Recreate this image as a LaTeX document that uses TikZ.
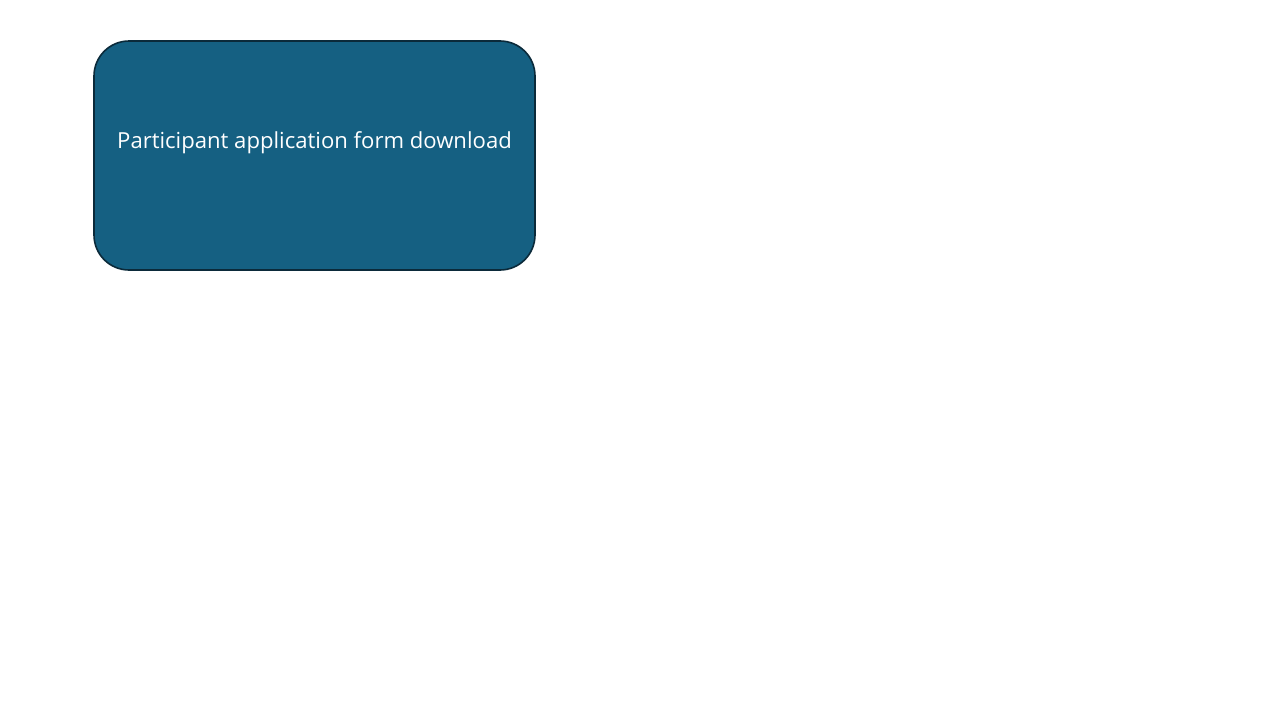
\documentclass[tikz,border=0pt]{standalone}
\usepackage{fontspec}
\setmainfont{Open Sans}
\definecolor{boxfill}{HTML}{156082}
\definecolor{boxline}{HTML}{0B2A3A}
\tikzset{procbox/.style={draw=boxline, line width=1.6pt, fill=boxfill, rounded corners=35pt}}
\begin{document}
\begin{tikzpicture}[x=1pt,y=-1pt]
\useasboundingbox (0,0) rectangle (1280,720);
\fill[white] (0,0) rectangle (1280,720);
\draw[procbox] (94,41) rectangle (535,270);
\node[text=white, font=\fontsize{22.1}{26}\selectfont, inner sep=0pt] (lbl) at (314.5,142.5) {Participant application form download};
\end{tikzpicture}
\end{document}
